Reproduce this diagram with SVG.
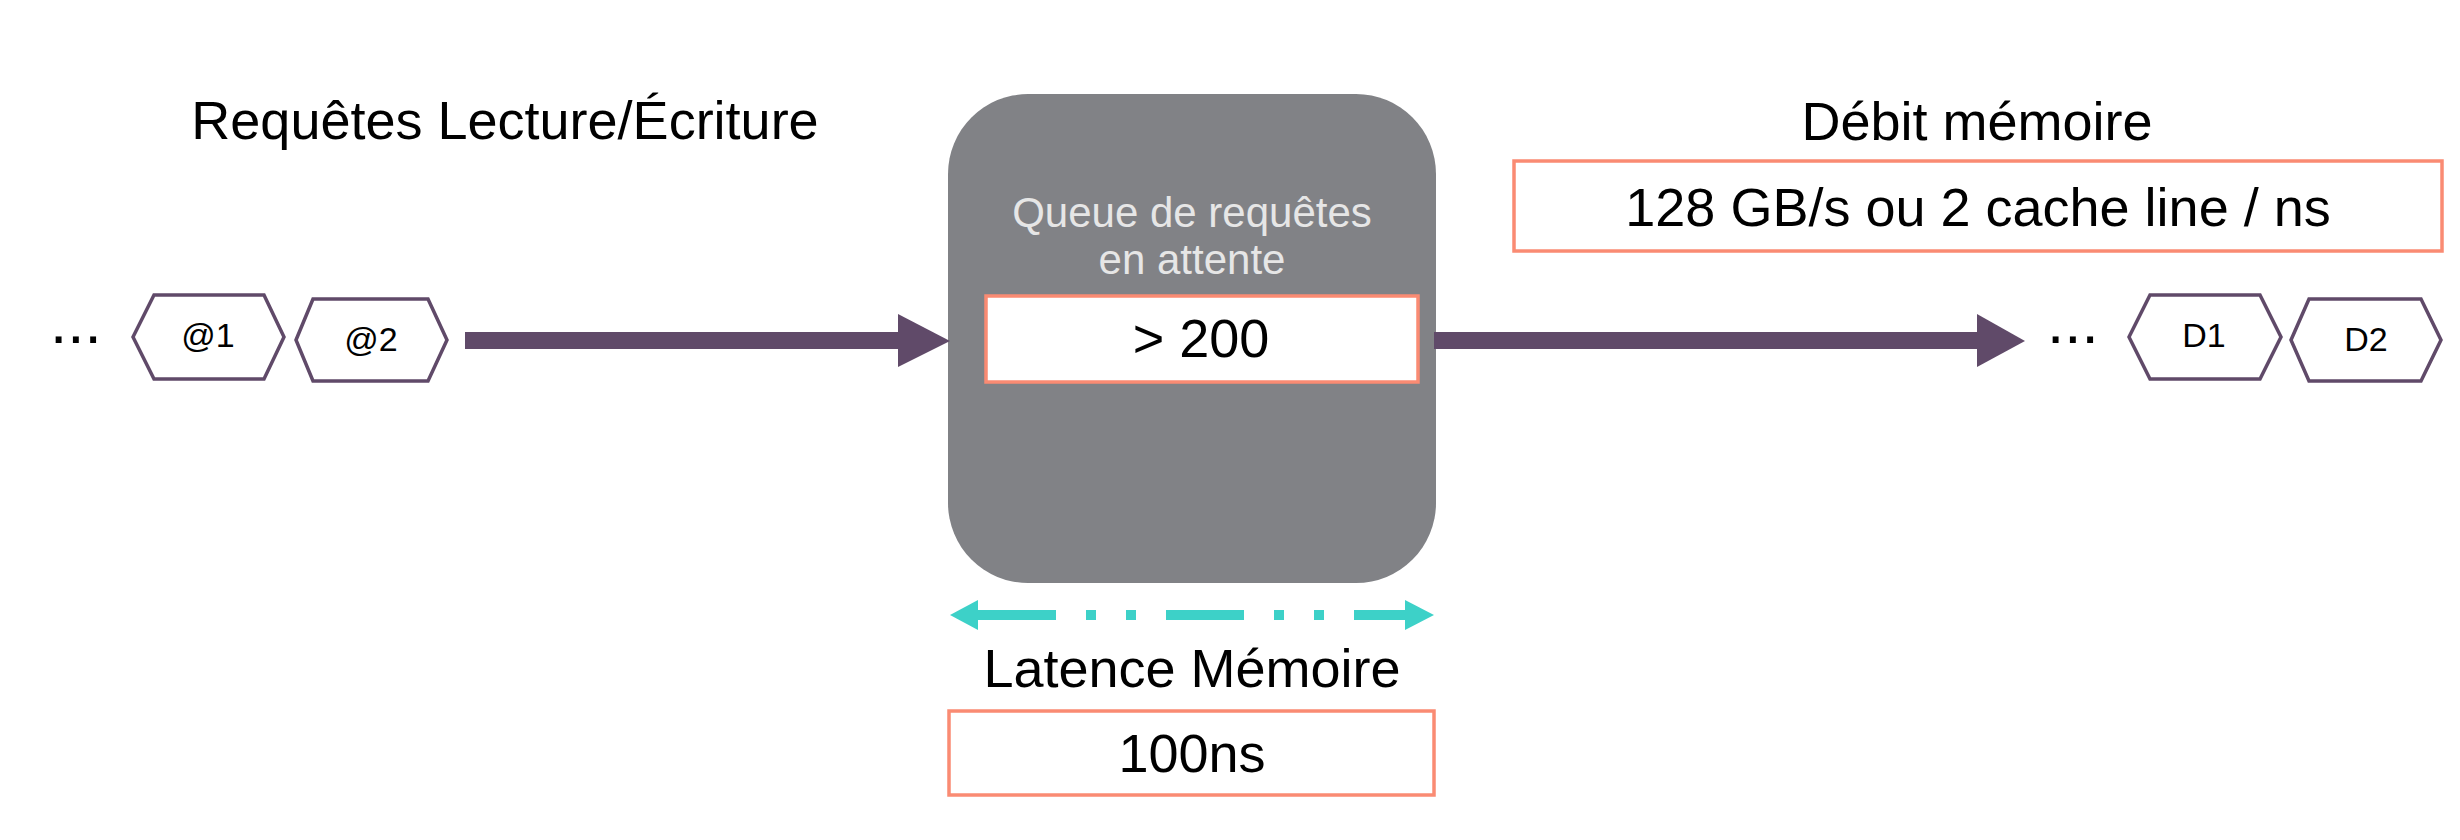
<svg xmlns="http://www.w3.org/2000/svg" width="2460" height="840" viewBox="0 0 2460 840">
  <style>
    text { font-family: "Liberation Sans", Arial, sans-serif; fill: #000; }
    .title { font-size: 54px; }
    .hexlbl { font-size: 34px; text-anchor: middle; }
    .hex { fill: #fff; stroke: #604a69; stroke-width: 3.5; stroke-linejoin: miter; }
    .vbox { fill: #fff; stroke: #fa8b73; stroke-width: 3.5; }
    .dots { font-size: 62px; }
    .purple { fill: #604a69; }
    .teal { fill: #3dd1c8; }
  </style>
  <rect width="2460" height="840" fill="#fff"/>

  <g id="title-requetes">
    <text class="title" x="505" y="139" text-anchor="middle">Requêtes Lecture/Écriture</text>
  </g>

  <g id="dots-left">
    <text class="dots" x="50" y="343">...</text>
  </g>
  <g id="hex-a1">
    <polygon class="hex" points="133,337 154,295 264,295 284,337 264,379 154,379"/>
    <text class="hexlbl" x="208" y="347">@1</text>
  </g>
  <g id="hex-a2">
    <polygon class="hex" points="296,340 313,299 428,299 447,340 428,381 313,381"/>
    <text class="hexlbl" x="371" y="351">@2</text>
  </g>

  <g id="queue">
    <rect x="948" y="94" width="488" height="489" rx="80" ry="80" fill="#818286"/>
    <text x="1192" y="227" text-anchor="middle" font-size="42" style="fill:#e6e6e6">Queue de requêtes</text>
    <text x="1192" y="274" text-anchor="middle" font-size="42" style="fill:#e6e6e6">en attente</text>
    <rect class="vbox" x="986" y="296" width="432" height="86"/>
    <text x="1201" y="357" text-anchor="middle" font-size="54">&gt; 200</text>
  </g>

  <g id="title-debit">
    <text class="title" x="1977" y="140" text-anchor="middle">Débit mémoire</text>
    <rect class="vbox" x="1514" y="161" width="928" height="90"/>
    <text class="title" x="1978" y="226" text-anchor="middle">128 GB/s ou 2 cache line / ns</text>
  </g>

  <g id="dots-right">
    <text class="dots" x="2047" y="343">...</text>
  </g>
  <g id="hex-d1">
    <polygon class="hex" points="2129,337 2150,295 2260,295 2281,337 2260,379 2150,379"/>
    <text class="hexlbl" x="2204" y="347">D1</text>
  </g>
  <g id="hex-d2">
    <polygon class="hex" points="2291,340 2309,299 2421,299 2441,340 2421,381 2309,381"/>
    <text class="hexlbl" x="2366" y="351">D2</text>
  </g>

  <g id="latence">
    <text class="title" x="1192" y="687" text-anchor="middle">Latence Mémoire</text>
    <rect class="vbox" x="949" y="711" width="485" height="84"/>
    <text class="title" x="1192" y="772" text-anchor="middle">100ns</text>
  </g>

  <g id="connectors">
    <rect class="purple" x="465" y="332" width="435" height="17"/>
    <polygon class="purple" points="898,314 950,341 898,367"/>
    <rect class="purple" x="1434" y="332" width="545" height="17"/>
    <polygon class="purple" points="1977,314 2025,341 1977,367"/>
    <line x1="978" y1="615" x2="1405" y2="615" stroke="#3dd1c8" stroke-width="10" stroke-dasharray="78 30 10 30 10 30"/>
    <polygon class="teal" points="950,615 978,600 978,630"/>
    <polygon class="teal" points="1434,615 1405,600 1405,630"/>
  </g>
</svg>
